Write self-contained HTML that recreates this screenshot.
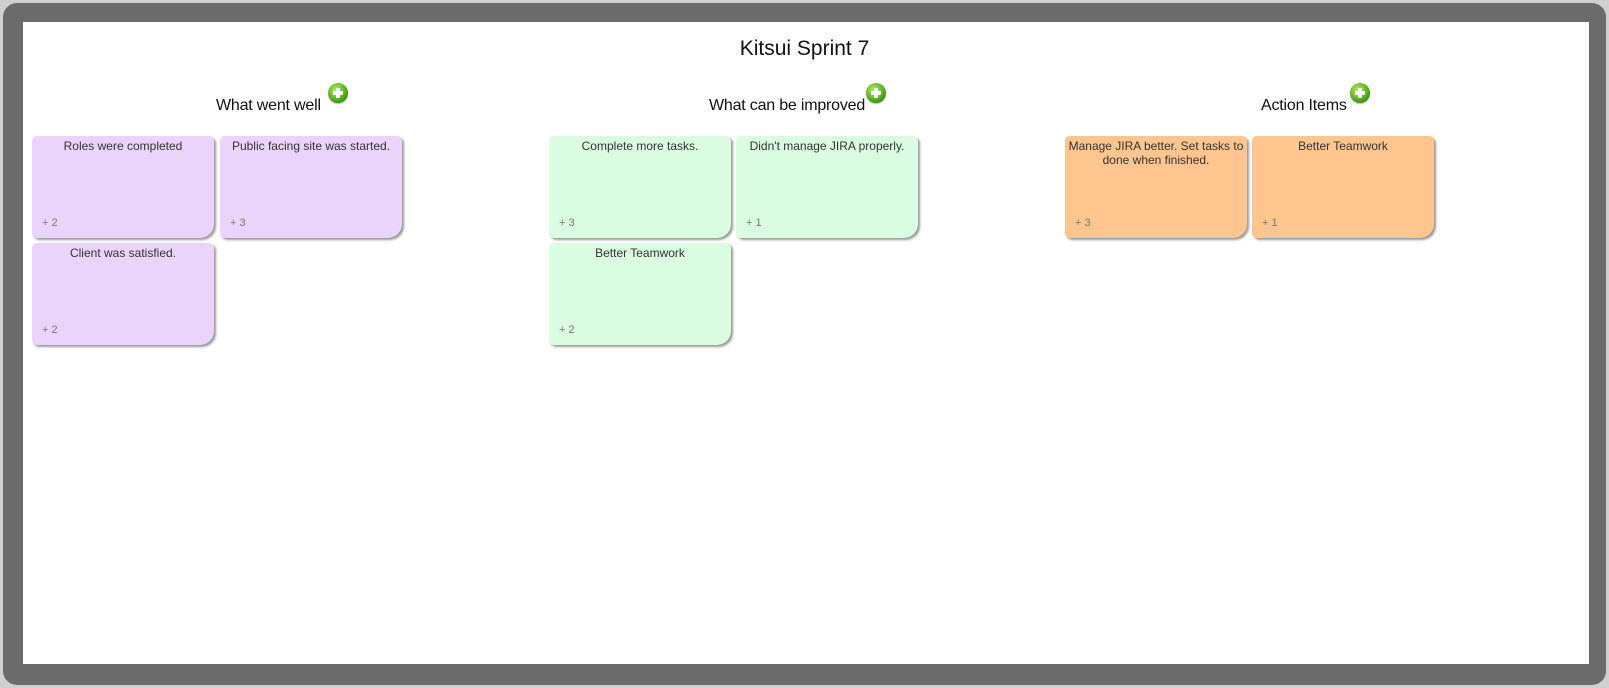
<!DOCTYPE html>
<html><head><meta charset="utf-8"><style>
body{margin:0;width:1609px;height:688px;background:#d0d0d0;position:relative;overflow:hidden;font-family:"Liberation Sans",sans-serif}
.frame{position:absolute;left:3px;top:3px;width:1603px;height:682px;background:#6b6b6b;border-radius:14px}
.white{position:absolute;left:23px;top:22px;width:1566px;height:642px;background:#fff}
.title{position:absolute;left:0;width:1609px;top:37px;text-align:center;font-size:21px;color:#111}
.h{position:absolute;font-size:16px;color:#111;top:97px;letter-spacing:-0.2px}
.plus{position:absolute;width:20px;height:20px;border-radius:50%;background:radial-gradient(circle at 40% 35%,#b6f060,#3a9a10 70%,#2a7a08);box-shadow:0 1px 1px rgba(0,0,0,.3)}
.plus:before{content:"";position:absolute;left:5px;top:8px;width:10px;height:4px;background:#fff}
.plus:after{content:"";position:absolute;left:8px;top:5px;width:4px;height:10px;background:#fff}
.c{position:absolute;width:182px;height:102px;border-radius:5px 5px 14px 5px;box-shadow:2px 2px 2px rgba(0,0,0,.4);font-size:12px;color:#333;text-align:center;box-sizing:border-box;padding:3px 3px 0}
.c span{position:absolute;left:10px;bottom:9px;font-size:11px;color:#777}
.p{background:#ebd4fb}.g{background:#dafce0}.o{background:#fec58e}
</style></head><body>
<div class="frame"></div><div class="white"></div>
<div class="title">Kitsui Sprint 7</div>
<div class="h" style="left:216px">What went well</div><div class="plus" style="left:328px;top:83px"></div>
<div class="h" style="left:709px">What can be improved</div><div class="plus" style="left:866px;top:83px"></div>
<div class="h" style="left:1261px">Action Items</div><div class="plus" style="left:1350px;top:83px"></div>
<div class="c p" style="left:32px;top:136px">Roles were completed<span>+ 2</span></div>
<div class="c p" style="left:220px;top:136px">Public facing site was started.<span>+ 3</span></div>
<div class="c p" style="left:32px;top:243px">Client was satisfied.<span>+ 2</span></div>
<div class="c g" style="left:549px;top:136px">Complete more tasks.<span>+ 3</span></div>
<div class="c g" style="left:736px;top:136px">Didn't manage JIRA properly.<span>+ 1</span></div>
<div class="c g" style="left:549px;top:243px">Better Teamwork<span>+ 2</span></div>
<div class="c o" style="left:1065px;top:136px">Manage JIRA better. Set tasks to done when finished.<span>+ 3</span></div>
<div class="c o" style="left:1252px;top:136px">Better Teamwork<span>+ 1</span></div>
</body></html>
